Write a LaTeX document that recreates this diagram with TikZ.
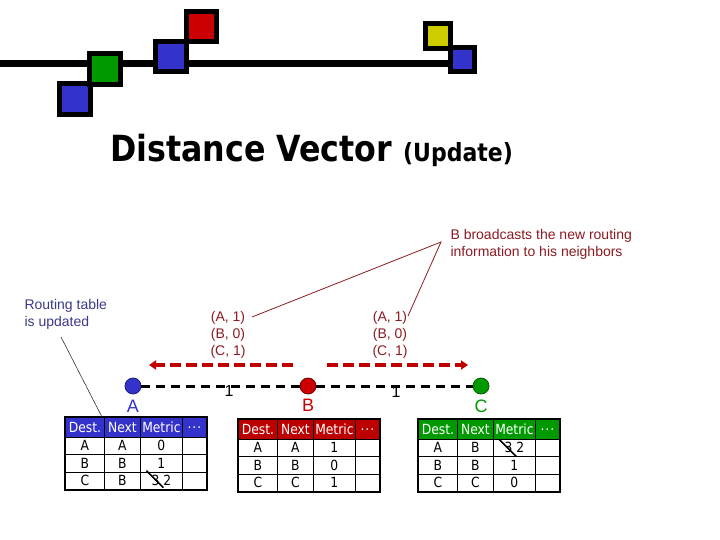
\documentclass[tikz,border=0pt]{standalone}
\usepackage{fontspec}
\setmainfont{Liberation Sans}
\newfontfamily\titlefont{DejaVu Sans}[FakeStretch=0.88]
\newfontfamily\cellfont{DejaVu Sans}[FakeStretch=0.88]
\usetikzlibrary{arrows.meta,matrix,calc}
\definecolor{rtblue}{HTML}{3333CC}
\definecolor{rtred}{HTML}{CC0000}
\definecolor{rtgreen}{HTML}{009900}
\definecolor{rtyellow}{HTML}{CCCC00}
\definecolor{updred}{HTML}{C00000}
\definecolor{notered}{HTML}{8C1A22}
\definecolor{noteblue}{HTML}{3A3A88}

\begin{document}
\begin{tikzpicture}[x=1pt, y=-1pt,
    sq/.style={draw=black, line width=5pt},
    router/.style={circle, minimum size=16pt, inner sep=0pt, line width=0.8pt},
    rlabel/.style={font=\fontsize{18}{18}\selectfont},
    cost/.style={font=\fontsize{16}{16}\selectfont},
    link/.style={line width=3pt, dash pattern=on 9pt off 6pt},
    upd/.style={-{Triangle[length=7pt,width=9pt]}, line width=4pt, dash pattern=on 11pt off 5pt, draw=updred},
    note/.style={align=left, anchor=west, font=\fontsize{14}{17}\selectfont},
    vec/.style={align=center, text=notered, font=\fontsize{14}{17}\selectfont},
    tab/.style={matrix of nodes, inner sep=0pt, outer sep=0pt, anchor=north west,
        column sep=-0.8pt, row sep=-0.8pt,
        nodes={draw, line width=0.8pt, inner sep=0pt, minimum height=17.5pt, anchor=center,
            font=\cellfont\fontsize{14}{14}\selectfont},
        row 1/.style={nodes={fill=#1, text=white, minimum height=19.5pt}},
        column 1/.style={nodes={minimum width=39pt}},
        column 2/.style={nodes={minimum width=36pt}},
        column 3/.style={nodes={minimum width=42pt}},
        column 4/.style={nodes={minimum width=24pt}}},
    frame/.style={draw, line width=2pt},
    strike/.style={line width=1.5pt}
]
\useasboundingbox (0,0) rectangle (720,540);

% logo bar
\draw[line width=6.5pt] (0,63.5) -- (460,63.5);
\draw[sq, fill=rtblue] (59.5,83.5) rectangle (90.5,114.5);
\draw[sq, fill=rtgreen] (89.5,53.5) rectangle (120.5,84.5);
\draw[sq, fill=rtblue] (155.5,41.5) rectangle (186.5,71.5);
\draw[sq, fill=rtred] (186.5,11.5) rectangle (216.5,41.5);
\draw[sq, fill=rtyellow] (425.5,23.5) rectangle (450.5,48.5);
\draw[sq, fill=rtblue] (450.5,47.5) rectangle (474.5,71.5);

\node[anchor=base west, inner sep=0pt] (title) at (110,162)
    {\titlefont\bfseries\fontsize{36}{40}\selectfont Distance Vector {\fontsize{25}{28}\selectfont (Update)}};

% routers
\node[router, fill=rtblue, draw=rtblue!60!black] (A) at (133,386) {};
\node[router, fill=rtred, draw=rtred!60!black] (B) at (308,386) {};
\node[router, fill=rtgreen, draw=rtgreen!60!black] (C) at (481,386) {};
\draw[link] (A) -- (B);
\draw[link] (B) -- (C);
\node[rlabel, text=rtblue] (lA) at (133,406) {A};
\node[rlabel, text=rtred] (lB) at (308,405) {B};
\node[rlabel, text=rtgreen] (lC) at (481,406) {C};
\node[cost] (cAB) at (229,391) {1};
\node[cost] (cBC) at (396,392) {1};

% update from B
\coordinate (uL1) at (293,365);
\coordinate (uL2) at (149,365);
\coordinate (uR1) at (327,365);
\coordinate (uR2) at (468,365);
\draw[upd] (uL1) -- (uL2);
\draw[upd] (uR1) -- (uR2);
\node[vec] (vL) at (228,335) {(A, 1)\\(B, 0)\\(C, 1)};
\node[vec] (vR) at (390,335) {(A, 1)\\(B, 0)\\(C, 1)};

% notes
\node[note, text=notered] (bc) at (447,244.5) {B broadcasts the new routing\\information to his neighbors};
\coordinate (bcP) at (441,242);
\coordinate (vLend) at (252,317);
\coordinate (vRend) at (408,316);
\draw[notered, line width=0.8pt] (vLend) -- (bcP) -- (vRend);
\node[note, text=noteblue] (rt) at (21,314.5) {Routing table\\is updated};
\coordinate (rtP) at (61,337);

% routing tables
\matrix[tab=rtblue] (tA) at (65,417) {
  Dest. & Next & Metric & .\kern1pt.\kern1pt. \\
  A & A & 0 & \mbox{} \\
  B & B & 1 & \mbox{} \\
  C & B & 3 2 & \mbox{} \\
};
\matrix[tab=rtred!92!black] (tB) at (238,419) {
  Dest. & Next & Metric & .\kern1pt.\kern1pt. \\
  A & A & 1 & \mbox{} \\
  B & B & 0 & \mbox{} \\
  C & C & 1 & \mbox{} \\
};
\matrix[tab=rtgreen] (tC) at (418,419) {
  Dest. & Next & Metric & .\kern1pt.\kern1pt. \\
  A & B & 3 2 & \mbox{} \\
  B & B & 1 & \mbox{} \\
  C & C & 0 & \mbox{} \\
};
\draw[frame] (tA.north west) rectangle (tA.south east);
\draw[frame] (tB.north west) rectangle (tB.south east);
\draw[frame] (tC.north west) rectangle (tC.south east);
\draw[strike] ($(tA-4-3.center)+(-15,-10)$) -- ($(tA-4-3.center)+(2,7)$);
\draw[strike] ($(tC-2-3.center)+(-15,-8)$) -- ($(tC-2-3.center)+(2,9)$);
\draw[line width=0.6pt, black!80] (rtP) -- ($(tA.north west)+(37,0)$);
\end{tikzpicture}
\end{document}
